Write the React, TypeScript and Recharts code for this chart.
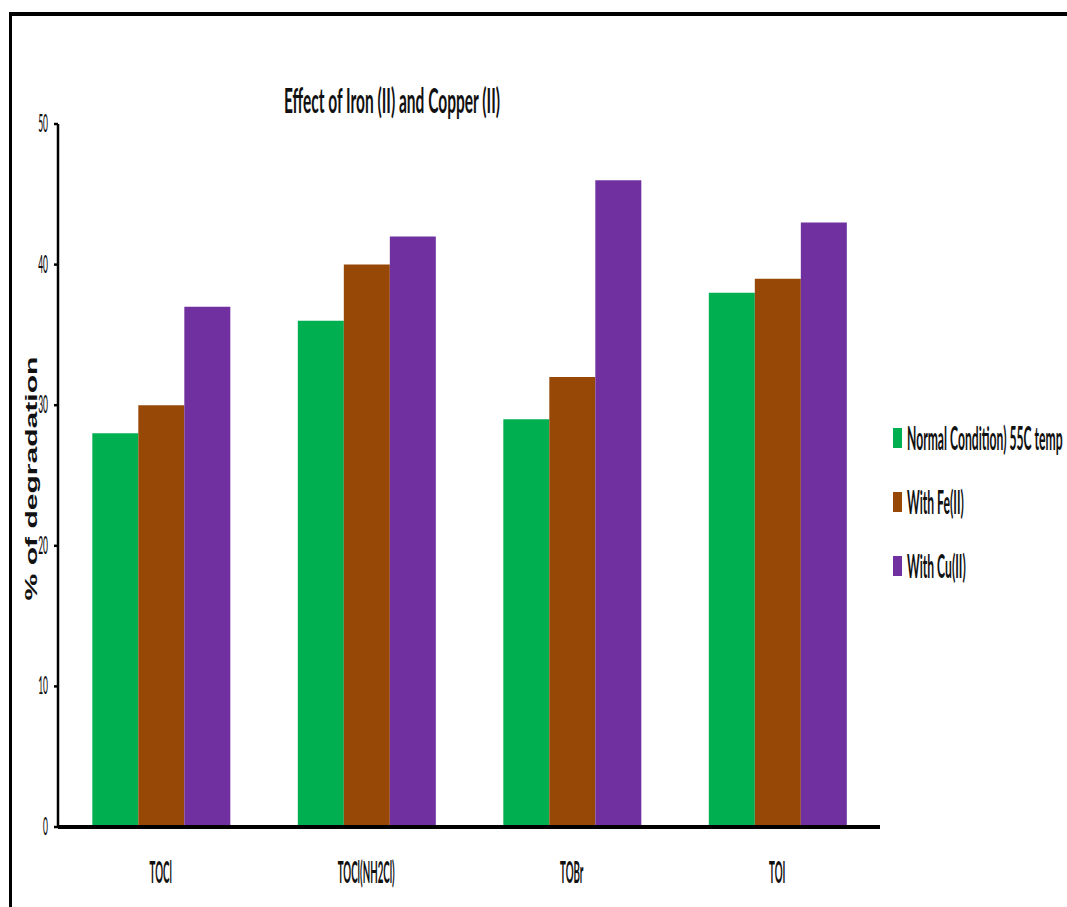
import { BarChart, Bar, XAxis, YAxis, Legend } from "recharts";

const categories = ["TOCl", "TOCl(NH2Cl)", "TOBr", "TOI"];
const normal = [28, 36, 29, 38];
const withFe = [30, 40, 32, 39];
const withCu = [37, 42, 46, 43];
const yTicks = [0, 10, 20, 30, 40, 50];

const series = [
  { key: "normal", name: "Normal Condition) 55C temp", color: "#00B050" },
  { key: "fe", name: "With Fe(II)", color: "#974706" },
  { key: "cu", name: "With Cu(II)", color: "#7030A0" },
];

const data = categories.map((c, i) => ({
  name: c,
  normal: normal[i],
  fe: withFe[i],
  cu: withCu[i],
}));

// the source image is squashed sideways, so text gets stretched tall
const font = "Lato, 'Open Sans', sans-serif";

function XTick(props: any) {
  const { x, y, payload } = props;
  return (
    <text
      transform={`translate(${x},${y + 56}) scale(0.72,2.2)`}
      textAnchor="middle"
      fontFamily={font}
      fontWeight="bold"
      fontSize={13.5}
      fill="#111"
    >
      {payload.value}
    </text>
  );
}

function YTick(props: any) {
  const { x, y, payload } = props;
  return (
    <text
      transform={`translate(${x},${y + 8}) scale(0.65,1.9)`}
      textAnchor="end"
      fontFamily={font}
      fontWeight="500"
      fontSize={13}
      fill="#111"
    >
      {payload.value}
    </text>
  );
}

function YLabel(props: any) {
  const vb = props.viewBox;
  const cy = vb.y + vb.height / 2 + 3;
  return (
    <text
      transform={`translate(37,${cy}) rotate(-90) scale(1.88,1)`}
      textAnchor="middle"
      fontFamily="'Liberation Sans', Arial, sans-serif"
      fontWeight="bold"
      fontSize={16}
      fill="#111"
    >
      % of degradation
    </text>
  );
}

function LegendBox() {
  return (
    <div style={{ position: "relative", width: 174, height: 160 }}>
      {series.map((s, i) => (
        <div key={s.key} style={{ position: "absolute", left: 0, top: i * 64, height: 20, width: 174 }}>
          <span style={{ position: "absolute", left: 0, top: 0, width: 9, height: 20, background: s.color }} />
          <svg width={160} height={30} style={{ position: "absolute", left: 14, top: -5, overflow: "visible" }}>
            <text
              transform="translate(0,27) scale(0.76,2.05)"
              fontFamily={font}
              fontWeight="bold"
              fontSize={16}
              fill="#111"
            >
              {s.name}
            </text>
          </svg>
        </div>
      ))}
    </div>
  );
}

export default function App() {
  return (
    <div style={{ position: "relative", width: 1067, height: 907, overflow: "hidden", background: "#fff" }}>
      <style>{`body{margin:0;overflow:hidden}`}</style>
      <div style={{ position: "absolute", left: 9, top: 12, right: -10, bottom: -10, borderTop: "4px solid #000", borderLeft: "3px solid #000" }} />
      <svg width={1067} height={150} style={{ position: "absolute", left: 0, top: 0 }}>
        <text transform="translate(392,113) scale(0.97,2.1)" textAnchor="middle" fontFamily={font} fontWeight="bold" fontSize={16} fill="#111">
          Effect of Iron (II) and Copper (II)
        </text>
      </svg>
      <BarChart
        width={1067}
        height={907}
        data={data}
        margin={{ top: 124, right: 187, bottom: 20, left: 0 }}
        barCategoryGap="16.7%"
        barGap={0}
      >
        <XAxis
          dataKey="name"
          height={60}
          tickLine={false}
          tickSize={0}
          tickMargin={0}
          axisLine={{ stroke: "#000", strokeWidth: 4 }}
          tick={XTick}
        />
        <YAxis
          width={58}
          domain={[0, 50]}
          ticks={yTicks}
          interval={0}
          axisLine={{ stroke: "#000", strokeWidth: 2.5 }}
          tickLine={{ stroke: "#000", strokeWidth: 2.5 }}
          tickSize={4}
          tickMargin={6}
          tick={YTick}
          label={{ content: YLabel }}
        />
        <Legend
          layout="vertical"
          verticalAlign="middle"
          align="center"
          wrapperStyle={{ left: 893, top: 428, width: 174 }}
          content={() => <LegendBox />}
        />
        {series.map((s) => (
          <Bar key={s.key} dataKey={s.key} name={s.name} fill={s.color} isAnimationActive={false} />
        ))}
      </BarChart>
    </div>
  );
}
